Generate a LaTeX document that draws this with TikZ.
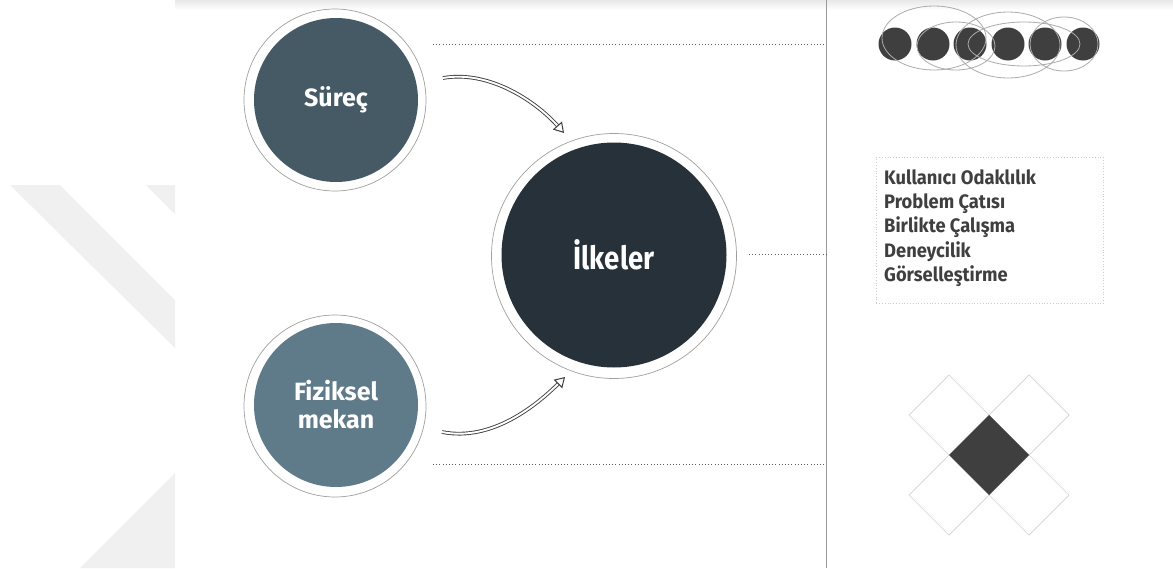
\documentclass[tikz,border=0pt]{standalone}
\usepackage{fontspec}
\setmainfont{Fira Sans}
\newfontfamily\labfont{Fira Sans}
\newfontfamily\ilkfont[FakeStretch=0.86]{Fira Sans}
\newfontfamily\boxfont[FakeStretch=0.94]{Fira Sans}
\usetikzlibrary{arrows.meta,shapes.geometric,decorations.markings}
\definecolor{surec}{HTML}{465A66}
\definecolor{fizik}{HTML}{5F7B89}
\definecolor{ilke}{HTML}{263139}
\definecolor{darkg}{HTML}{3F3F3F}
\definecolor{wmark}{HTML}{F0F0F0}
\begin{document}
\begin{tikzpicture}[x=1pt,y=-1pt,
  ring/.style={circle, draw=gray!75, line width=0.7pt, fill=white, inner sep=0pt, minimum size=#1},
  disc/.style={circle, inner sep=0pt, minimum size=#1, text=white, align=center},
  smalllab/.style={font=\labfont\bfseries\fontsize{25}{28}\selectfont},
  dotline/.style={line width=1pt, dash pattern=on 1pt off 2.2pt, draw=gray!75!black},
  shaft/.style={draw=darkg, line width=0.9pt, double=white, double distance=1.9pt, shorten >=8pt},
  tipmark/.style={postaction={decorate}, decoration={markings,
     mark=at position 1 with {\arrow{Triangle[open, color=darkg, fill=white, length=10pt, width=12pt, line width=1pt]}}}},
  oval/.style={draw=gray!65, line width=0.8pt},
  dot/.style={circle, fill=darkg, inner sep=0pt, minimum size=33pt},
  tile/.style={draw=gray!35, line width=0.7pt, fill=white}]
\useasboundingbox (0,0) rectangle (1173,568);
\fill[white] (0,0) rectangle (1173,568);
% watermark
\fill[wmark] (10,185) -- (60,185) -- (175,300) -- (175,348) -- cycle;
\fill[wmark] (146,185) -- (175,185) -- (175,214) -- cycle;
\fill[wmark] (175,473) -- (80,568) -- (175,568) -- cycle;
\shade[top color=gray!18, bottom color=white] (175,0) rectangle (1173,10);
% divider
\coordinate (vtop) at (826,0);
\coordinate (vbot) at (826,568);
\draw[gray!80, line width=0.8pt] (vtop) -- (vbot);
% circles
\node[ring=182pt] (sureR) at (335,100) {};
\node[disc=164pt, fill=surec, smalllab] (sure) at (336,100) {Süreç};
\node[ring=182pt] (fizR) at (335,406) {};
\node[disc=164pt, fill=fizik, smalllab] (fiz) at (336,405) {Fiziksel\\mekan};
\node[ring=245pt] (ilkR) at (614,256) {};
\node[disc=225pt, fill=ilke, font=\ilkfont\bfseries\fontsize{32}{36}\selectfont] (ilk) at (614,255) {İlkeler};
% arrows
\coordinate (a1s) at (443,78);
\coordinate (a1e) at (564,133);
\coordinate (a2s) at (442,432);
\coordinate (a2e) at (565,377);
\draw[shaft] (a1s) .. controls (488,70) and (535,100) .. (a1e);
\path[tipmark] (a1s) .. controls (488,70) and (535,100) .. (a1e);
\draw[shaft] (a2s) .. controls (492,442) and (537,405) .. (a2e);
\path[tipmark] (a2s) .. controls (492,442) and (537,405) .. (a2e);
% dotted lines
\coordinate (d1s) at (433,44);  \coordinate (d1e) at (826,44);
\coordinate (d2s) at (749,254); \coordinate (d2e) at (826,254);
\coordinate (d3s) at (433,464); \coordinate (d3e) at (826,464);
\draw[dotline] (d1s) -- (d1e);
\draw[dotline] (d2s) -- (d2e);
\draw[dotline] (d3s) -- (d3e);
% six dots
\foreach \i/\x in {1/895,2/933,3/970,4/1008,5/1045,6/1083}
  \node[dot] (p\i) at (\x,44) {};
\draw[oval] (934,38) ellipse [x radius=52pt, y radius=32pt];
\draw[oval] (956,46) ellipse [x radius=39pt, y radius=24pt];
\draw[oval] (1008,45) ellipse [x radius=52pt, y radius=33pt];
\draw[oval] (1024,44) ellipse [x radius=56pt, y radius=22pt];
\draw[oval] (1064,44) ellipse [x radius=34pt, y radius=27pt];
% text box
\node[draw=gray!40, dotted, line width=0.8pt, minimum width=227pt, minimum height=146pt, anchor=north west, inner sep=0pt] (box) at (876,157) {};
\node[anchor=west, align=left, text=darkg, inner sep=0pt,
  font=\boxfont\bfseries\fontsize{19.5}{24.4}\selectfont] (txt) at (884,228)
  {Kullanıcı Odaklılık\\Problem Çatısı\\Birlikte Çalışma\\Deneycilik\\Görselleştirme};
% cross of tiles
\foreach \dx/\dy in {-40/-40, 40/-40, -40/40, 40/40}
  \draw[tile, shift={(\dx,\dy)}] (989,415) -- (1029,455) -- (989,495) -- (949,455) -- cycle;
\fill[darkg] (989,415) -- (1029,455) -- (989,495) -- (949,455) -- cycle;
\end{tikzpicture}
\end{document}
